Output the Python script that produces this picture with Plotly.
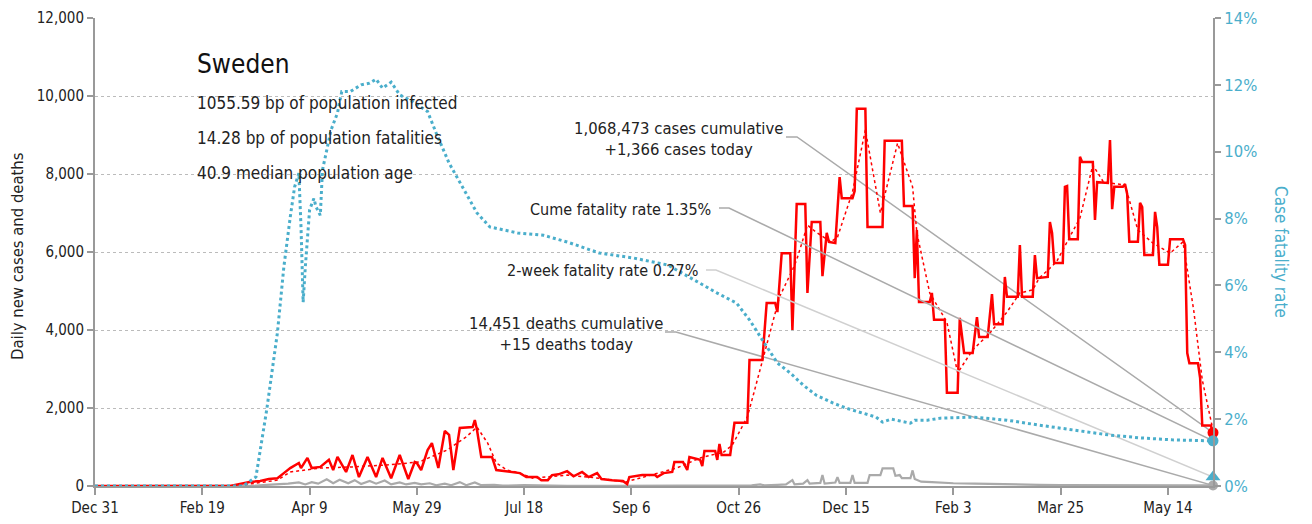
import plotly.graph_objects as go
import pandas as pd

BASE = pd.Timestamp("2019-12-31")

# ---- daily new cases (days since 2019-12-31, value) ----
case_day = [0, 63, 72, 77, 81, 85, 88, 91, 95, 96, 99, 101, 105, 109, 111, 113, 117, 120, 123, 127, 131,
            134, 138, 142, 146, 149, 150, 152, 155, 157, 160, 163, 165, 167, 170, 176, 177, 178, 180, 185,
            187, 193, 198, 201, 206, 208, 211, 213, 216, 220, 223, 227, 230, 234, 236, 241, 246, 248, 249,
            255, 261, 262, 265, 269, 270, 274, 276, 277, 282, 283, 284, 289, 290, 291, 292, 296, 298, 304,
            305, 311, 313, 317, 318, 320, 324, 325, 327, 331, 332, 334, 338, 339, 341, 342, 345, 347, 348,
            353, 354, 355, 359, 360, 367, 368, 376, 377, 381, 382, 383, 384, 389, 390, 391, 396, 397, 402,
            403, 405, 409, 411, 412, 416, 418, 419, 423, 424, 425, 430, 431, 432, 437, 438, 439, 444, 445,
            446, 447, 451, 452, 453, 454, 458, 459, 460, 465, 466, 467, 472, 473, 474, 475, 479, 480, 481,
            482, 486, 487, 488, 489, 493, 494, 495, 496, 500, 501, 507, 508, 509, 510, 514, 515, 516, 520, 521]
case_val = [0, 0, 100, 130, 180, 200, 330, 460, 590, 460, 720, 460, 490, 670, 410, 745, 360, 795, 230, 745, 230,
            720, 200, 795, 180, 615, 590, 410, 920, 1100, 460, 1410, 1310, 410, 1490, 1510, 1690, 1440, 745, 745,
            410, 360, 330, 230, 230, 150, 150, 280, 300, 380, 250, 360, 230, 330, 180, 150, 130, 50, 230,
            280, 280, 230, 330, 360, 615, 615, 410, 745, 670, 510, 900, 900, 670, 1080, 795, 795, 1620, 1620,
            3230, 3230, 4690, 4690, 4460, 5970, 5970, 4000, 7230, 7230, 4950, 6770, 6770, 5380, 6490, 6260, 6230, 7920, 7380,
            7380, 7560, 9670, 9670, 6640, 6640, 8850, 8850, 7180, 7180, 5330, 6560, 4720, 4720, 4950, 4260, 4260, 2390, 2390,
            4310, 3410, 3410, 4330, 3820, 3820, 4920, 4150, 4150, 5360, 4850, 4850, 6180, 4850, 4850, 5920, 5330, 5360, 6770,
            6490, 5720, 5720, 7670, 7690, 6330, 6330, 8440, 8310, 8310, 6820, 7790, 7770, 8870, 7100, 7670, 7670, 7740, 7490,
            6260, 6260, 7260, 7150, 5920, 5920, 7030, 6640, 5670, 5670, 6330, 6330, 6180, 3410, 3150, 3150, 2770, 1550, 1550, 1366]

# ---- 7-day average of new cases ----
avg_day = [0, 65, 72, 85, 91, 105, 120, 136, 151, 164, 173, 178, 183, 187, 192, 198, 204, 220, 235, 247, 259,
           271, 282, 293, 297, 304, 307, 319, 325, 327, 332, 336, 343, 346, 353, 359, 366, 374, 381, 383, 389,
           397, 402, 409, 417, 425, 431, 437, 440, 448, 453, 459, 465, 470, 480, 486, 493, 501, 507, 512, 516, 521]
avg_val = [0, 0, 50, 150, 360, 460, 490, 540, 615, 920, 1260, 1510, 1100, 590, 410, 330, 200, 280, 200, 100, 280,
           460, 720, 870, 1050, 1770, 2380, 4850, 5540, 5800, 6690, 6510, 6260, 6380, 7540, 9130, 7000, 8790, 7670, 6490, 4950,
           4200, 2900, 3490, 3920, 4460, 4950, 5030, 5330, 5740, 6260, 6870, 8230, 7790, 7720, 6560, 6230, 5970, 6260, 4510, 2720, 1430]

# ---- daily deaths ----
death_day = [0, 70, 75, 80, 85, 90, 95, 98, 101, 104, 108, 111, 114, 118, 121, 124, 128, 131, 135, 138, 142, 145,
             149, 152, 156, 159, 163, 166, 170, 173, 177, 180, 186, 190, 200, 210, 220, 240, 260, 280, 290, 300,
             306, 310, 312, 318, 322, 325, 326, 330, 332, 333, 338, 339, 340, 345, 346, 347, 352, 353, 354, 360,
             361, 366, 367, 372, 373, 375, 376, 380, 381, 382, 385, 390, 400, 410, 420, 430, 440, 450, 460, 470,
             480, 490, 500, 510, 521]
death_val = [0, 0, 10, 30, 40, 60, 90, 40, 100, 60, 170, 70, 160, 70, 150, 50, 130, 60, 140, 40, 90, 40,
             80, 40, 70, 20, 60, 20, 100, 20, 90, 20, 30, 10, 20, 10, 5, 5, 5, 10, 15, 20,
             15, 40, 15, 30, 40, 150, 40, 60, 150, 60, 80, 280, 60, 90, 230, 80, 80, 280, 80, 80,
             280, 280, 450, 450, 260, 280, 200, 200, 400, 180, 110, 100, 70, 60, 45, 40, 30, 25, 20, 20,
             25, 20, 15, 15, 15]

# ---- case fatality rate (%) ----
cfr_day = [0, 69, 75, 80, 85, 88, 91, 93, 95, 96, 97, 98, 100, 102, 103, 105, 106, 110, 113, 115, 119, 124, 128,
           131, 134, 138, 142, 148, 155, 159, 165, 172, 178, 184, 197, 209, 220, 235, 251, 267, 279, 290, 299,
           305, 311, 318, 324, 330, 336, 344, 350, 358, 364, 367, 371, 380, 382, 388, 394, 409, 425, 440, 456,
           472, 487, 502, 521]
cfr_val = [0, 0, 0.27, 2.27, 4.58, 6.55, 8.05, 8.94, 9.36, 7.75, 5.5, 6.55, 8.26, 8.6, 8.35, 8.1, 9.45, 10.65, 11.16, 11.8, 11.8, 12.0, 12.05,
           12.17, 11.9, 12.08, 11.7, 11.5, 11.2, 10.56, 9.66, 8.85, 8.17, 7.75, 7.57, 7.5, 7.3, 6.97, 6.82, 6.61, 6.16, 5.77, 5.47,
           4.97, 4.37, 3.68, 3.38, 3.02, 2.72, 2.48, 2.33, 2.18, 2.06, 1.91, 2.0, 1.88, 1.97, 1.97, 2.03, 2.06, 1.97, 1.82, 1.67,
           1.53, 1.44, 1.38, 1.35]

# ---- latest values ----
last_cases = 1366
last_deaths = 15
cume_rate = 1.35
two_week_rate = 0.27

tick_dates = ["2019-12-31", "2020-02-19", "2020-04-09", "2020-05-29", "2020-07-18", "2020-09-06",
              "2020-10-26", "2020-12-15", "2021-02-03", "2021-03-25", "2021-05-14"]
tick_text = ["Dec 31", "Feb 19", "Apr 9", "May 29", "Jul 18", "Sep 6", "Oct 26", "Dec 15", "Feb 3", "Mar 25", "May 14"]
left_ticks = [0, 2000, 4000, 6000, 8000, 10000, 12000]
right_ticks = [0, 2, 4, 6, 8, 10, 12, 14]

country = "Sweden"
info_lines = ["1055.59 bp of population infected", "14.28 bp of population fatalities", "40.9 median population age"]
cases_label = "1,068,473 cases cumulative<br>+1,366 cases today"
cume_label = "Cume fatality rate 1.35%"
twoweek_label = "2-week fatality rate 0.27%"
deaths_label = "14,451 deaths cumulative<br>+15 deaths today"

FONT = "DejaVu Sans Condensed, DejaVu Sans, sans-serif"
RED = "#ff0000"
BLUE = "#4aaecb"
GRAY = "#aaaaaa"
DARK = "#222222"

# page geometry: the page body has an 8px default margin
OFF = 8
PL, PR, PT, PB = 95, 1213, 18, 486          # plot area in page pixels
W, H = 1312 - OFF, 524 - OFF
PW = PR - PL
PH = PB - PT
ML = PL - OFF
MT = PT - OFF
MR = W - ML - PW
MB = H - MT - PH
END_DAY = 521
YMAX, Y2MAX = 12000, 14


def d(days):
    return [BASE + pd.Timedelta(days=float(v)) for v in days]


def px_date(px):
    return BASE + pd.Timedelta(days=(px - PL) * END_DAY / PW)


def py_y(py):
    return (PB - py) * YMAX / PH


def py_y2(py):
    return (PB - py) * Y2MAX / PH


end_date = BASE + pd.Timedelta(days=END_DAY)

fig = go.Figure()

# leader lines
leaders = [
    (786, 797, 137, last_cases, "y", GRAY),
    (719, 729, 208, cume_rate, "y2", GRAY),
    (706, 716, 270, two_week_rate, "y2", "#d0d0d0"),
    (665, 676, 332, last_deaths, "y", GRAY),
]
for x0, x1, yy, yend, ax, col in leaders:
    conv = py_y if ax == "y" else py_y2
    fig.add_trace(go.Scatter(
        x=[px_date(x0), px_date(x1), end_date], y=[conv(yy), conv(yy), yend],
        mode="lines", line=dict(color=col, width=1.5), yaxis=ax, hoverinfo="skip", showlegend=False,
        cliponaxis=False))

fig.add_trace(go.Scatter(x=d(cfr_day), y=cfr_val, mode="lines", yaxis="y2",
                         line=dict(color=BLUE, width=3, dash="dot"), showlegend=False))
fig.add_trace(go.Scatter(x=d(death_day), y=death_val, mode="lines",
                         line=dict(color=GRAY, width=2.2), showlegend=False))
fig.add_trace(go.Scatter(x=d(avg_day), y=avg_val, mode="lines",
                         line=dict(color=RED, width=1.5, dash="dot"), showlegend=False))
fig.add_trace(go.Scatter(x=d(case_day), y=case_val, mode="lines",
                         line=dict(color=RED, width=2.5), showlegend=False))

# end markers
fig.add_trace(go.Scatter(x=[end_date], y=[last_deaths], mode="markers", cliponaxis=False,
                         marker=dict(color=GRAY, size=10), showlegend=False))
fig.add_trace(go.Scatter(x=[end_date], y=[two_week_rate], yaxis="y2", mode="markers", cliponaxis=False,
                         marker=dict(color=BLUE, size=13, symbol="triangle-up"), showlegend=False))
fig.add_trace(go.Scatter(x=[end_date], y=[cume_rate], yaxis="y2", mode="markers", cliponaxis=False,
                         marker=dict(color=BLUE, size=11), showlegend=False))
fig.add_trace(go.Scatter(x=[end_date], y=[last_cases], mode="markers", cliponaxis=False,
                         marker=dict(color=RED, size=11), showlegend=False))


def fx(px):
    return (px - PL) / PW


def fy(py):
    return (PB - py) / PH


ann = []
ann.append(dict(text=country, x=fx(195), y=fy(64), xref="paper", yref="paper", xanchor="left",
                yanchor="middle", showarrow=False, font=dict(size=26, color="#111111", family=FONT)))
for i, line in enumerate(info_lines):
    ann.append(dict(text=line, x=fx(195), y=fy(103 + 35 * i), xref="paper", yref="paper", xanchor="left",
                    yanchor="middle", showarrow=False, font=dict(size=17, color=DARK, family=FONT)))
ann.append(dict(text=cases_label, x=fx(678), y=fy(139), xref="paper", yref="paper", xanchor="center",
                yanchor="middle", align="center", showarrow=False, font=dict(size=16.5, color=DARK, family=FONT)))
ann.append(dict(text=cume_label, x=fx(713), y=fy(209), xref="paper", yref="paper", xanchor="right",
                yanchor="middle", showarrow=False, font=dict(size=16, color=DARK, family=FONT)))
ann.append(dict(text=twoweek_label, x=fx(700), y=fy(270), xref="paper", yref="paper", xanchor="right",
                yanchor="middle", showarrow=False, font=dict(size=16, color=DARK, family=FONT)))
ann.append(dict(text=deaths_label, x=fx(566), y=fy(334), xref="paper", yref="paper", xanchor="center",
                yanchor="middle", align="center", showarrow=False, font=dict(size=16.5, color=DARK, family=FONT)))
ann.append(dict(text="Daily new cases and deaths", x=fx(17), y=fy(256), xref="paper", yref="paper",
                xanchor="center", yanchor="middle", textangle=-90, showarrow=False,
                font=dict(size=16.5, color=DARK, family=FONT)))
ann.append(dict(text="Case fatality rate", x=fx(1281), y=fy(252), xref="paper", yref="paper",
                xanchor="center", yanchor="middle", textangle=90, showarrow=False,
                font=dict(size=17, color=BLUE, family=FONT)))

fig.update_layout(
    width=W, height=H,
    margin=dict(l=ML, r=MR, t=MT, b=MB, autoexpand=False),
    paper_bgcolor="white", plot_bgcolor="white",
    font=dict(family=FONT, size=16, color=DARK),
    showlegend=False,
    annotations=ann,
    xaxis=dict(type="date", range=[BASE, end_date], tickvals=tick_dates, ticktext=tick_text,
               automargin=False, showgrid=False, zeroline=False, showline=True, linecolor="#999999",
               linewidth=2, ticks="outside", ticklen=7, tickcolor="#999999", tickwidth=1.5,
               tickfont=dict(size=15, color=DARK, family=FONT)),
    yaxis=dict(range=[0, YMAX], tickvals=left_ticks, ticktext=[f"{v:,}" for v in left_ticks],
               automargin=False, showgrid=True, gridcolor="#bbbbbb", griddash="dot", gridwidth=1,
               zeroline=False, showline=True, linecolor="#999999", linewidth=2,
               ticks="outside", ticklen=6, tickcolor="#999999", tickwidth=1.5,
               ticklabeloverflow="allow",
               tickfont=dict(size=15, color=DARK, family=FONT)),
    yaxis2=dict(range=[0, Y2MAX], overlaying="y", side="right", tickvals=right_ticks,
                ticktext=[f"{v}%" for v in right_ticks], automargin=False, showgrid=False, zeroline=False,
                showline=True, linecolor="#999999", linewidth=2, ticks="outside", ticklen=6,
                ticklabeloverflow="allow",
                tickcolor="#999999", tickwidth=1.5, tickfont=dict(size=16.5, color=BLUE, family=FONT)),
)

fig.write_html("out.html")
